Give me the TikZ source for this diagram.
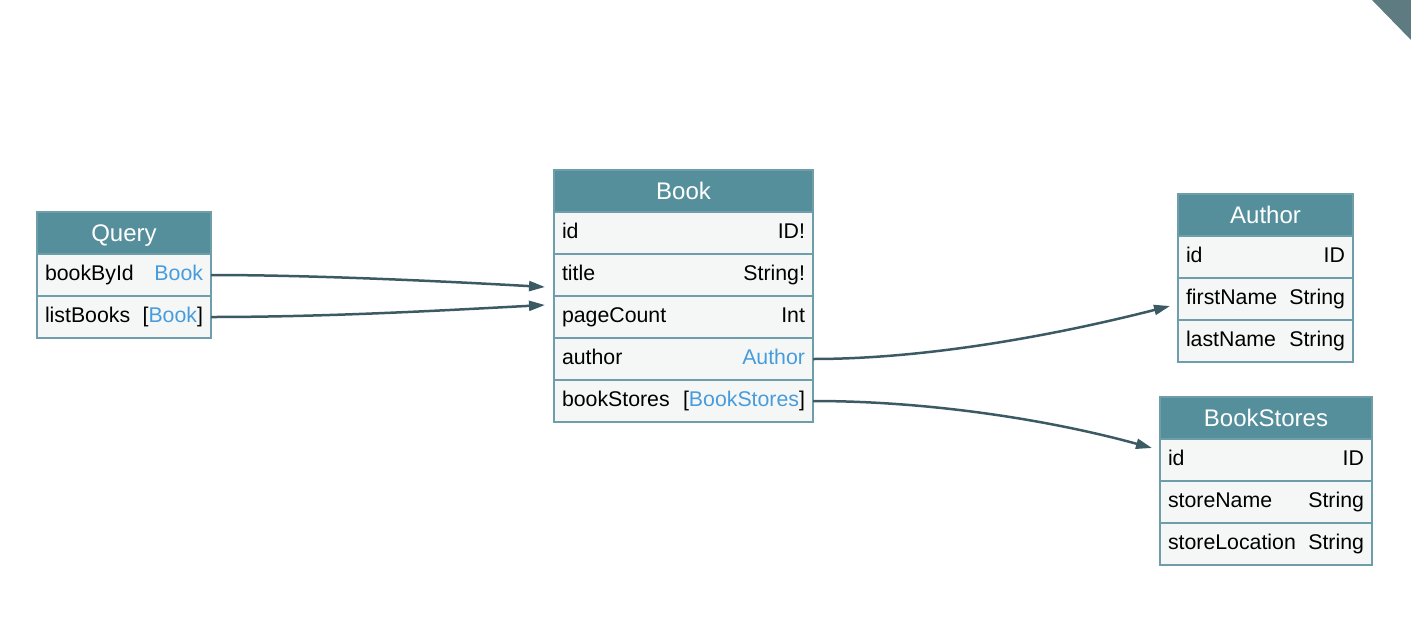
\documentclass[tikz,border=0pt]{standalone}
\usepackage{fontspec}
\setmainfont{Liberation Sans}
\usetikzlibrary{positioning}
\usetikzlibrary{arrows.meta}
\definecolor{headfill}{RGB}{86,143,156}
\definecolor{fieldfill}{RGB}{245,247,247}
\definecolor{fieldline}{RGB}{110,158,170}
\definecolor{typeblue}{RGB}{72,156,220}
\definecolor{linkcol}{RGB}{60,90,100}
\definecolor{cornercol}{RGB}{94,123,130}
\tikzset{% table parts
        head/.style={rectangle, fill=headfill, draw=fieldline, line width=1.2pt,
          text=white, minimum height=42pt, inner sep=0pt, outer sep=0pt,
          text height=17.2pt, text depth=0pt, font=\fontsize{24}{28}\selectfont},
        field/.style={rectangle, fill=fieldfill, draw=fieldline, line width=1.2pt,
          minimum height=42pt, inner xsep=8pt, inner ysep=0pt, outer sep=0pt, align=left,
          text height=15pt, text depth=4pt, font=\fontsize{21.3}{25}\selectfont},
        link/.style={draw=linkcol, line width=2.5pt,
          -{Triangle[length=16pt,width=10pt]}}
        }
\newcommand{\tref}[1]{\textcolor{typeblue}{#1}}

\begin{document}
\begin{tikzpicture}[x=1pt,y=1pt]
\useasboundingbox (0,0) rectangle (1411,-627);
\fill[cornercol] (1372,0) -- (1411,0) -- (1411,-40) -- cycle;

% Query
\node[head, minimum width=174pt] (query) at (124,-233) {Query};
\node[field, text width=158pt, below=0pt of query] (q1) {bookById\hfill\tref{Book}};
\node[field, text width=158pt, below=0pt of q1] (q2) {listBooks\hfill[\tref{Book}]};

% Book
\node[head, minimum width=259pt] (book) at (683.5,-191) {Book};
\node[field, text width=243pt, below=0pt of book] (b1) {id\hfill ID!};
\node[field, text width=243pt, below=0pt of b1] (b2) {title\hfill String!};
\node[field, text width=243pt, below=0pt of b2] (b3) {pageCount\hfill Int};
\node[field, text width=243pt, below=0pt of b3] (b4) {author\hfill\tref{Author}};
\node[field, text width=243pt, below=0pt of b4] (b5) {bookStores\hfill[\tref{BookStores}]};

% Author
\node[head, minimum width=175pt] (author) at (1265.5,-215) {Author};
\node[field, text width=159pt, below=0pt of author] (a1) {id\hfill ID};
\node[field, text width=159pt, below=0pt of a1] (a2) {firstName\hfill String};
\node[field, text width=159pt, below=0pt of a2] (a3) {lastName\hfill String};

% BookStores
\node[head, minimum width=212pt] (stores) at (1266,-418) {BookStores};
\node[field, text width=196pt, below=0pt of stores] (s1) {id\hfill ID};
\node[field, text width=196pt, below=0pt of s1] (s2) {storeName\hfill String};
\node[field, text width=196pt, below=0pt of s2] (s3) {storeLocation\hfill String};

% arrow ends
\coordinate (bk1) at (545,-287);
\coordinate (bk2) at (545,-305);
\coordinate (au) at (1170,-306);
\coordinate (bs) at (1152,-448);

\draw[link] (q1.east) .. controls (310,-275) and (440,-281) .. (bk1);
\draw[link] (q2.east) .. controls (330,-317) and (450,-310) .. (bk2);
\draw[link] (b4.east) .. controls (930,-359) and (1060,-334) .. (au);
\draw[link] (b5.east) .. controls (930,-401) and (1050,-420) .. (bs);
\end{tikzpicture}
\end{document}
